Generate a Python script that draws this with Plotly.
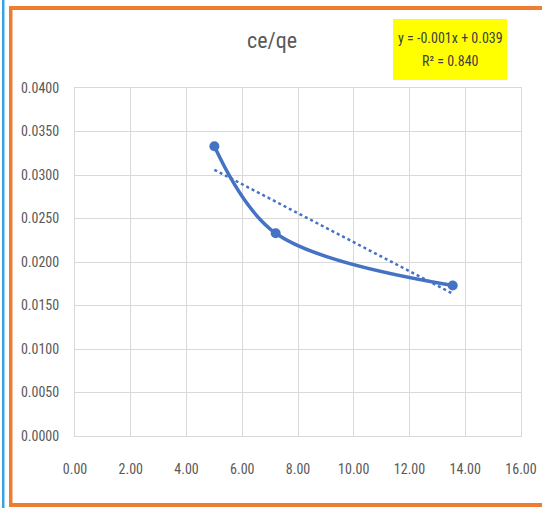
import numpy as np
import plotly.graph_objects as go

# ---- data ----
x_vals = [5.0, 7.2, 13.55]
y_vals = [0.0333, 0.0233, 0.0173]
x_ticks = [0, 2, 4, 6, 8, 10, 12, 14, 16]
y_ticks = [0.0, 0.005, 0.01, 0.015, 0.02, 0.025, 0.03, 0.035, 0.04]
title_text = "ce/qe"
equation_text = "y = -0.001x + 0.039"
r2_text = "R² = 0.840"

# ---- layout geometry (pixels) ----
W, H = 542, 508
L, R, T, B = 75, 21, 88, 72
PW, PH = W - L - R, H - T - B


def px(xp):
    return (xp - L) / PW


def py(yp):
    return (H - B - yp) / PH


FONT = "Liberation Sans Narrow, Arial Narrow, Roboto Condensed, sans-serif"
BLUE = "#4472C4"
GRID = "#D9D9D9"
TXT = "#595959"

slope, intercept = np.polyfit(x_vals, y_vals, 1)
tx = [min(x_vals), max(x_vals)]
ty = [slope * v + intercept for v in tx]

fig = go.Figure()
fig.add_trace(go.Scatter(
    x=tx, y=ty, mode="lines",
    line=dict(color=BLUE, width=2.5, dash="dot"),
    hoverinfo="skip", showlegend=False,
))
fig.add_trace(go.Scatter(
    x=x_vals, y=y_vals, mode="lines+markers",
    line=dict(color=BLUE, width=3.5, shape="spline", smoothing=1.0),
    marker=dict(color=BLUE, size=10, symbol="circle"),
    showlegend=False,
))

shapes = [
    dict(type="rect", xref="paper", yref="paper", x0=px(2), x1=px(4.5), y0=py(-5), y1=py(H + 5),
         fillcolor="#3BA3DF", line=dict(width=0), layer="above"),
    dict(type="rect", xref="paper", yref="paper", x0=px(9), x1=px(12.5), y0=py(6), y1=py(507),
         fillcolor="#ED7D31", line=dict(width=0), layer="above"),
    dict(type="rect", xref="paper", yref="paper", x0=px(9), x1=px(W + 5), y0=py(6), y1=py(10),
         fillcolor="#ED7D31", line=dict(width=0), layer="above"),
    dict(type="rect", xref="paper", yref="paper", x0=px(9), x1=px(W + 5), y0=py(503), y1=py(507),
         fillcolor="#ED7D31", line=dict(width=0), layer="above"),
    dict(type="rect", xref="paper", yref="paper", x0=px(393), x1=px(507), y0=py(19), y1=py(80),
         fillcolor="#FFFF00", line=dict(width=0), layer="above"),
]

annotations = [
    dict(xref="paper", yref="paper", x=px(450), y=py(38), text=equation_text, showarrow=False,
         font=dict(family=FONT, size=14, color="#404040"), xanchor="center", yanchor="middle"),
    dict(xref="paper", yref="paper", x=px(450), y=py(61), text=r2_text, showarrow=False,
         font=dict(family=FONT, size=14, color="#404040"), xanchor="center", yanchor="middle"),
]

fig.update_layout(
    width=W, height=H,
    margin=dict(l=L, r=R, t=T, b=B, autoexpand=False),
    paper_bgcolor="white", plot_bgcolor="white",
    title=dict(text=title_text, x=272 / W, xanchor="center", y=1 - 40 / H, yanchor="middle",
               yref="container", font=dict(family=FONT, size=22, color=TXT)),
    shapes=shapes, annotations=annotations,
    xaxis=dict(range=[0, 16], tickvals=x_ticks, ticktext=[f"{v:.2f}" for v in x_ticks],
               showgrid=True, gridcolor=GRID, gridwidth=1, zeroline=False,
               showline=True, linecolor=GRID, mirror=True, ticks="", automargin=False,
               tickfont=dict(family=FONT, size=14, color=TXT), ticklabelstandoff=20),
    yaxis=dict(range=[0, 0.04], tickvals=y_ticks, ticktext=[f"{v:.4f}" for v in y_ticks],
               showgrid=True, gridcolor=GRID, gridwidth=1, zeroline=False,
               showline=True, linecolor=GRID, mirror=True, ticks="", automargin=False,
               tickfont=dict(family=FONT, size=14, color=TXT), ticklabelstandoff=12),
)

fig.write_html("out.html")
